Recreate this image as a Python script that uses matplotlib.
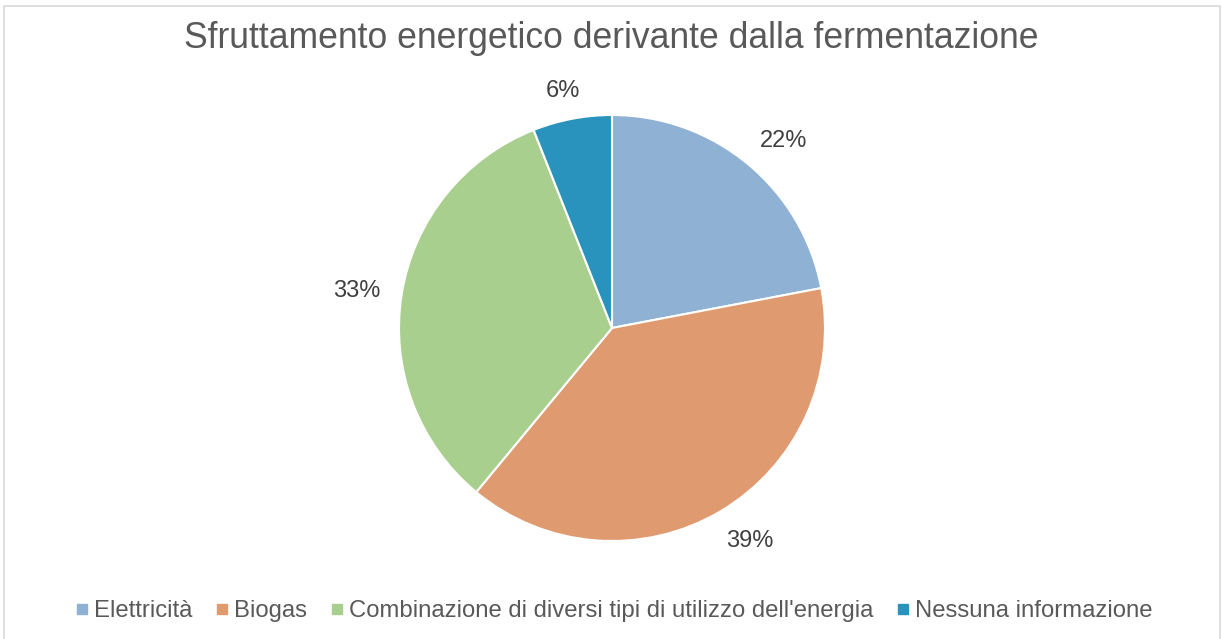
import matplotlib
matplotlib.use("Agg")
import matplotlib.pyplot as plt
from matplotlib.patches import Rectangle
from matplotlib.lines import Line2D
import numpy as np

plt.rcParams['font.family'] = ['Liberation Sans', 'DejaVu Sans']

categories = ["Elettricità", "Biogas", "Combinazione di diversi tipi di utilizzo dell'energia", "Nessuna informazione"]
values = [22, 39, 33, 6]
colors = ["#8FB2D4", "#E09A6F", "#A9CF8F", "#2A93BD"]
title = "Sfruttamento energetico derivante dalla fermentazione"

W, H = 1223, 639
fig = plt.figure(figsize=(W/100, H/100), dpi=100)
fig.patch.set_facecolor("white")

# border
fig.add_artist(Rectangle((4/W, -0.01), (1220-4)/W, (H-6)/H + 0.01, transform=fig.transFigure,
                         fill=False, edgecolor="#D9D9D9", linewidth=1.2))

cx, cy, r = 612, H-328, 213
ax = fig.add_axes([(cx-r)/W, (cy-r)/H, 2*r/W, 2*r/H])
wedges, texts, autotexts = ax.pie(values, colors=colors, startangle=90, counterclock=False,
                                  radius=1, autopct='%1.0f%%', pctdistance=1.2,
                                  wedgeprops=dict(edgecolor="white", linewidth=1.5),
                                  textprops=dict(color="#404040", fontsize=17))
ax.set_xlim(-1, 1)
ax.set_ylim(-1, 1)
ax.set_aspect('equal')
ax.axis('off')

# place labels outside end (Excel-like)
fig.canvas.draw()
renderer = fig.canvas.get_renderer()
gap = 0.1
for w, t in zip(wedges, autotexts):
    ang = np.deg2rad((w.theta1 + w.theta2) / 2)
    c, s = np.cos(ang), np.sin(ang)
    bb = t.get_window_extent(renderer)
    hw = bb.width / 2 / r
    hh = bb.height / 2 / r * 0.8
    x = c * (1 + gap) + np.sign(c) * hw * min(1, abs(c) * 1.5)
    y = s * (1 + gap) + np.sign(s) * hh * min(1, abs(s) * 1.5) - 0.01
    t.set_position((x, y))
    t.set_ha('center')
    t.set_va('center')

fig.text(0.5, 1-39/H, title, ha='center', va='center', fontsize=25.6, color="#595959")

handles = [Line2D([], [], marker='s', linestyle='none', markersize=7, markerfacecolor=c,
                  markeredgecolor=c) for c in colors]
leg = fig.legend(handles, categories, loc='center', bbox_to_anchor=(0.5, 1-611/H), ncol=4,
                 frameon=False, fontsize=17.2, handletextpad=0.0, columnspacing=0.75,
                 handlelength=1.0)
for t in leg.get_texts():
    t.set_color("#595959")

fig.savefig("out.png", dpi=100)
